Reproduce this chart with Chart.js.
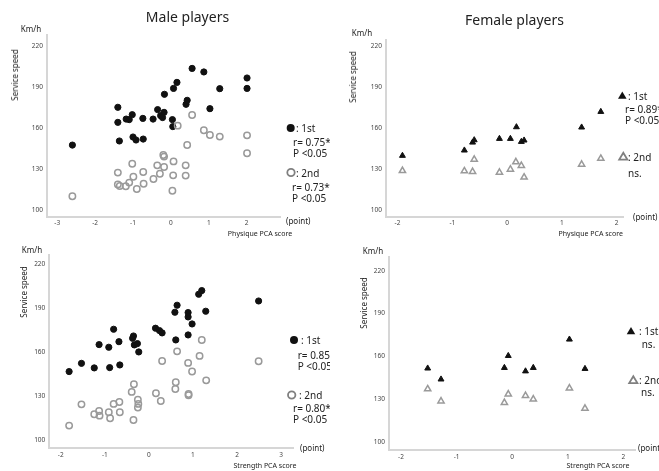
<!DOCTYPE html>
<html>
<head>
<meta charset="utf-8">
<script src="https://cdn.jsdelivr.net/npm/chart.js@4/dist/chart.umd.min.js"></script>
<style>
html, body { margin: 0; padding: 0; background: #fff; overflow: hidden; }
#wrap { position: relative; width: 659px; height: 471px; overflow: hidden; font-family: "Noto Sans", sans-serif; color: #222; }
.panel { position: absolute; overflow: hidden; }
.panel canvas { position: absolute; left: 0; top: 0; }
.t { position: absolute; white-space: nowrap; line-height: 1; }
</style>
</head>
<body>
<div id="wrap">
  <div class="panel" id="p1" style="left:0;top:0;width:330px;height:240px"><canvas id="c1" width="330" height="240"></canvas></div>
  <div class="panel" id="p2" style="left:330px;top:0;width:329px;height:240px"><canvas id="c2" width="329" height="240"></canvas></div>
  <div class="panel" id="p3" style="left:0;top:235px;width:330px;height:236px"><canvas id="c3" width="330" height="236"></canvas></div>
  <div class="panel" id="p4" style="left:330px;top:235px;width:329px;height:236px"><canvas id="c4" width="329" height="236"></canvas></div>
</div>
<script>
// 刻度
const speedTicks = [100, 130, 160, 190, 220];
const maleXTicks = [-3, -2, -1, 0, 1, 2];
const femaleXTicks = [-2, -1, 0, 1, 2];
const strengthMaleXTicks = [-2, -1, 0, 1, 2, 3];

// 男子 - Physique PCA score
const malePhys1stX = [-2.60, -1.40, -1.40, -1.36, -1.18, -1.10, -1.02, -1.00, -0.92, -0.74, -0.73, -0.47, -0.35, -0.27, -0.18, -0.22, -0.17, 0.04, 0.05, 0.07, 0.16, 0.40, 0.43, 0.56, 0.87, 1.03, 1.29, 2.01, 2.01];
const malePhys1stY = [147.4, 175.0, 164.0, 150.4, 166.4, 166.0, 169.6, 153.3, 151.1, 166.9, 151.8, 166.4, 173.3, 168.9, 171.3, 167.5, 184.5, 166.0, 160.9, 188.8, 193.2, 177.2, 180.1, 203.4, 200.8, 174.0, 188.6, 196.4, 188.8];
const malePhys2ndX = [-2.60, -1.40, -1.40, -1.35, -1.19, -1.10, -1.02, -0.99, -0.90, -0.73, -0.72, -0.46, -0.36, -0.29, -0.20, -0.18, -0.18, 0.07, 0.06, 0.04, 0.18, 0.39, 0.39, 0.43, 0.56, 0.87, 1.03, 1.29, 2.01, 2.01];
const malePhys2ndY = [110.0, 127.3, 118.7, 117.5, 117.3, 120.0, 133.8, 124.3, 115.3, 127.8, 119.2, 122.6, 132.6, 126.5, 140.2, 139.0, 131.4, 135.5, 125.3, 114.1, 161.6, 132.6, 125.1, 147.5, 169.4, 158.2, 154.8, 153.6, 154.5, 141.4];

// 女子 - Physique PCA score
const femalePhys1stX = [-1.91, -0.78, -0.63, -0.60, -0.14, 0.06, 0.17, 0.26, 0.31, 1.36, 1.71];
const femalePhys1stY = [139.7, 143.6, 149.4, 151.1, 152.1, 152.1, 160.6, 149.9, 150.9, 160.4, 171.8];
const femalePhys2ndX = [-1.91, -0.78, -0.63, -0.60, -0.14, 0.06, 0.16, 0.26, 0.31, 1.36, 1.71];
const femalePhys2ndY = [128.7, 128.5, 128.0, 137.0, 127.5, 129.7, 135.1, 132.4, 123.9, 133.3, 137.6];

// 男子 - Strength PCA score
const maleStr1stX = [-1.81, -1.53, -1.24, -1.13, -0.91, -0.89, -0.80, -0.68, -0.66, -0.37, -0.35, -0.33, -0.26, -0.23, 0.15, 0.24, 0.30, 0.61, 0.59, 0.64, 0.89, 0.89, 0.89, 0.98, 1.13, 1.20, 1.29, 2.49];
const maleStr1stY = [146.5, 152.1, 149.0, 164.9, 163.1, 149.2, 175.4, 166.9, 151.0, 169.2, 170.8, 164.7, 165.6, 159.9, 176.1, 174.5, 172.9, 168.1, 187.0, 191.8, 186.8, 183.8, 171.5, 179.0, 199.3, 201.8, 187.7, 194.7];
const maleStr2ndX = [-1.81, -1.53, -1.24, -1.13, -1.12, -0.91, -0.88, -0.80, -0.67, -0.66, -0.35, -0.39, -0.34, -0.25, -0.24, -0.25, 0.16, 0.27, 0.30, 0.61, 0.60, 0.64, 0.89, 0.90, 0.90, 0.98, 1.15, 1.20, 1.30, 2.49];
const maleStr2ndY = [109.6, 124.1, 117.3, 119.6, 116.4, 118.7, 114.6, 124.4, 125.7, 118.7, 113.4, 132.6, 137.8, 127.3, 124.4, 121.9, 131.7, 126.4, 153.7, 139.2, 134.6, 160.3, 152.4, 131.2, 130.3, 146.5, 157.2, 168.1, 140.5, 153.5];

// 女子 - Strength PCA score
const femaleStr1stX = [-1.52, -1.28, -0.14, -0.07, 0.24, 0.38, 1.03, 1.31];
const femaleStr1stY = [151.5, 143.8, 151.9, 160.3, 149.5, 151.9, 171.8, 151.2];
const femaleStr2ndX = [-1.52, -1.28, -0.14, -0.07, 0.24, 0.38, 1.03, 1.31];
const femaleStr2ndY = [137.0, 128.5, 127.4, 133.4, 132.3, 129.9, 137.6, 123.4];

const Y_W = 30;
const X_H = 16;

function pts(xs, ys) {
    return xs.map((x, i) => ({ x: x, y: ys[i] }));
}

function filledSet(xs, ys, style) {
    return {
        data: pts(xs, ys),
        pointStyle: style,
        pointRadius: style === 'triangle' ? 3.4 : 3.1,
        backgroundColor: '#111',
        borderColor: '#111',
        borderWidth: 1
    };
}

function openSet(xs, ys, style) {
    return {
        data: pts(xs, ys),
        pointStyle: style,
        pointRadius: style === 'triangle' ? 3.6 : 3.2,
        backgroundColor: 'rgba(255,255,255,0)',
        borderColor: '#9a9a9a',
        borderWidth: 1.5
    };
}

// 图例符号
function markPlugin(items) {
    return {
        id: 'marks',
        afterDraw(chart) {
            const ctx = chart.ctx;
            items.forEach(m => {
                ctx.save();
                ctx.beginPath();
                if (m.shape === 'circle') {
                    ctx.arc(m.x, m.y, m.r, 0, Math.PI * 2);
                } else {
                    const h = m.r;
                    ctx.moveTo(m.x, m.y - h);
                    ctx.lineTo(m.x + h * 0.95, m.y + h * 0.6);
                    ctx.lineTo(m.x - h * 0.95, m.y + h * 0.6);
                    ctx.closePath();
                }
                if (m.fill) {
                    ctx.fillStyle = '#111';
                    ctx.fill();
                } else {
                    ctx.strokeStyle = '#808080';
                    ctx.lineWidth = 1.8;
                    ctx.stroke();
                }
                ctx.restore();
            });
        }
    };
}

function makePanel(canvasId, area, xRange, yRange, xTicks, datasets, marks) {
    const canvas = document.getElementById(canvasId);
    const W = canvas.width, H = canvas.height;
    const tickFont = { family: 'Noto Sans', size: 6.5 };
    return new Chart(canvas, {
        type: 'scatter',
        data: { datasets: datasets },
        options: {
            responsive: false,
            animation: false,
            devicePixelRatio: 1,
            layout: {
                padding: {
                    left: area.left - Y_W,
                    top: area.top,
                    right: W - area.right,
                    bottom: H - area.bottom - X_H
                }
            },
            plugins: { legend: { display: false }, tooltip: { enabled: false } },
            scales: {
                x: {
                    type: 'linear',
                    min: xRange[0],
                    max: xRange[1],
                    grid: { display: false, drawTicks: false },
                    border: { display: true, color: '#d6d6d6', width: 2 },
                    ticks: { font: tickFont, color: '#444', padding: 3, callback: v => String(v) },
                    afterBuildTicks: s => { s.ticks = xTicks.map(v => ({ value: v })); },
                    afterFit: s => { s.height = X_H; }
                },
                y: {
                    type: 'linear',
                    min: yRange[0],
                    max: yRange[1],
                    grid: { display: false, drawTicks: false },
                    border: { display: true, color: '#d6d6d6', width: 2 },
                    ticks: { font: tickFont, color: '#444', padding: 4, callback: v => String(v) },
                    afterBuildTicks: s => { s.ticks = speedTicks.map(v => ({ value: v })); },
                    afterFit: s => { s.width = Y_W; }
                }
            }
        },
        plugins: [markPlugin(marks)]
    });
}

// 文字
function addText(panelId, text, x, y, size, anchor, extra) {
    const el = document.createElement('div');
    el.className = 't';
    el.textContent = text;
    el.style.left = x + 'px';
    el.style.top = y + 'px';
    el.style.fontSize = size + 'px';
    let tf = anchor === 'left' ? 'translate(0,-50%)' : 'translate(-50%,-50%)';
    if (extra === 'rot') tf += ' rotate(-90deg)';
    el.style.transform = tf;
    document.getElementById(panelId).appendChild(el);
}

// 面板 1
makePanel('c1', { left: 47, top: 35, right: 280, bottom: 216.7 }, [-3.27, 2.88], [95.1, 227.8], maleXTicks,
    [openSet(malePhys2ndX, malePhys2ndY, 'circle'), filledSet(malePhys1stX, malePhys1stY, 'circle')],
    [{ shape: 'circle', fill: true, x: 290.7, y: 128, r: 4 }, { shape: 'circle', fill: false, x: 291, y: 172.5, r: 3.7 }]);
addText('p1', 'Male players', 187.5, 17, 14);
addText('p1', 'Km/h', 31, 29, 8);
addText('p1', 'Service speed', 15, 75, 8, 'center', 'rot');
addText('p1', '(point)', 286, 220.7, 8, 'left');
addText('p1', 'Physique PCA score', 260, 233, 7);
addText('p1', ': 1st', 296, 128, 10, 'left');
addText('p1', 'r= 0.75*', 293, 141.5, 10, 'left');
addText('p1', 'P <0.05', 293, 152.5, 10, 'left');
addText('p1', ': 2nd', 296, 172.5, 10, 'left');
addText('p1', 'r= 0.73*', 292, 186.5, 10, 'left');
addText('p1', 'P <0.05', 292, 197.5, 10, 'left');

// 面板 2
makePanel('c2', { left: 56, top: 40, right: 293, bottom: 216.7 }, [-2.21, 2.115], [95.1, 224.2], femaleXTicks,
    [openSet(femalePhys2ndX, femalePhys2ndY, 'triangle'), filledSet(femalePhys1stX, femalePhys1stY, 'triangle')],
    [{ shape: 'tri', fill: true, x: 292.3, y: 96, r: 4.5 }, { shape: 'tri', fill: false, x: 293.3, y: 157, r: 4.3 }]);
addText('p2', 'Female players', 184.5, 20, 14);
addText('p2', 'Km/h', 32, 33, 8);
addText('p2', 'Service speed', 23, 77, 8, 'center', 'rot');
addText('p2', '(point)', 303, 216.7, 8, 'left');
addText('p2', 'Physique PCA score', 260.7, 233, 7);
addText('p2', ': 1st', 298, 95.7, 10, 'left');
addText('p2', 'r= 0.89*', 295, 109, 10, 'left');
addText('p2', 'P <0.05', 295, 119.5, 10, 'left');
addText('p2', ': 2nd', 298, 156.7, 10, 'left');
addText('p2', 'ns.', 298, 173, 10, 'left');

// 面板 3
makePanel('c3', { left: 49.3, top: 20, right: 293, bottom: 213 }, [-2.26, 3.27], [94.3, 226.1], strengthMaleXTicks,
    [openSet(maleStr2ndX, maleStr2ndY, 'circle'), filledSet(maleStr1stX, maleStr1stY, 'circle')],
    [{ shape: 'circle', fill: true, x: 294, y: 105, r: 4 }, { shape: 'circle', fill: false, x: 291.7, y: 160, r: 3.7 }]);
addText('p3', 'Km/h', 32, 15, 8);
addText('p3', 'Service speed', 24, 56.7, 8, 'center', 'rot');
addText('p3', '(point)', 300, 213, 8, 'left');
addText('p3', 'Strength PCA score', 265, 230, 7);
addText('p3', ': 1st', 301, 105, 10, 'left');
addText('p3', 'r= 0.85*', 297.7, 120, 10, 'left');
addText('p3', 'P <0.05', 297.7, 130.7, 10, 'left');
addText('p3', ': 2nd', 299, 160, 10, 'left');
addText('p3', 'r= 0.80*', 293, 172.7, 10, 'left');
addText('p3', 'P <0.05', 293, 184, 10, 'left');

// 面板 4
makePanel('c4', { left: 59, top: 22, right: 305, bottom: 215 }, [-2.216, 2.21], [94.2, 229.6], femaleXTicks,
    [openSet(femaleStr2ndX, femaleStr2ndY, 'triangle'), filledSet(femaleStr1stX, femaleStr1stY, 'triangle')],
    [{ shape: 'tri', fill: true, x: 301, y: 96.5, r: 4.5 }, { shape: 'tri', fill: false, x: 303.3, y: 145.5, r: 4.3 }]);
addText('p4', 'Km/h', 43, 16, 8);
addText('p4', 'Service speed', 34, 68, 8, 'center', 'rot');
addText('p4', '(point)', 308, 213.3, 8, 'left');
addText('p4', 'Strength PCA score', 268, 230, 7);
addText('p4', ': 1st', 309, 96, 10, 'left');
addText('p4', 'ns.', 311.7, 109.3, 10, 'left');
addText('p4', ': 2nd', 309, 145, 10, 'left');
addText('p4', 'ns.', 311, 157.3, 10, 'left');
</script>
</body>
</html>
